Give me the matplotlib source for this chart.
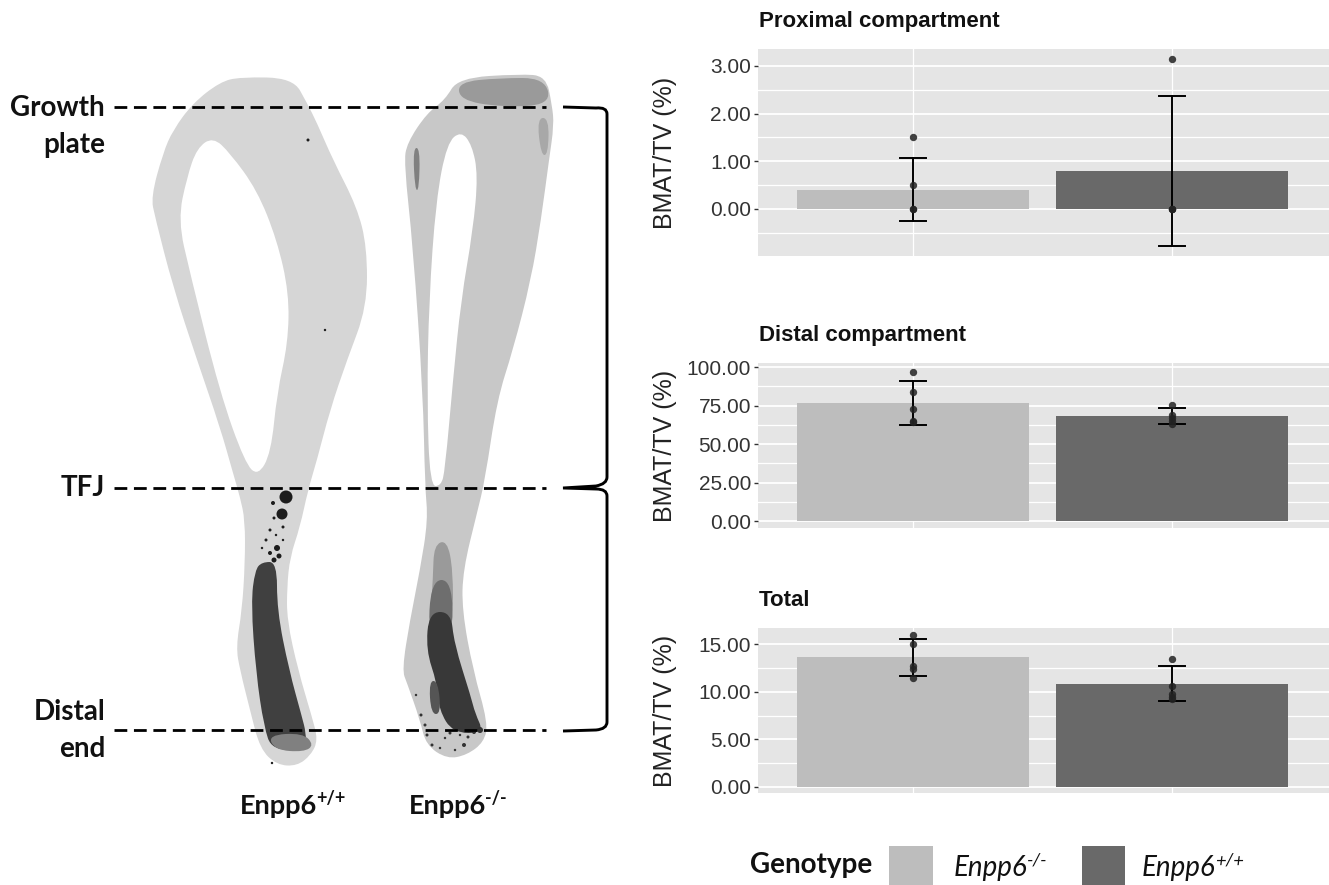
import matplotlib
matplotlib.use('Agg')
import matplotlib.pyplot as plt
from matplotlib.patches import PathPatch, Rectangle, Circle
from matplotlib.path import Path

# chart data
genotypes = [1, 2]
titles = ['Proximal compartment', 'Distal compartment', 'Total']

prox_means = [0.40, 0.80]
prox_low = [-0.25, -0.78]
prox_high = [1.07, 2.36]
prox_pts = [[0, 0, 0.5, 1.5], [0, 0, 0, 3.15]]
prox_ticks = [0, 1, 2, 3]
prox_minor = [-0.5, 0.5, 1.5, 2.5]

dist_means = [76.5, 68.5]
dist_low = [62.5, 63]
dist_high = [91, 73.5]
dist_pts = [[97, 84, 72.5, 65, 64], [75.5, 69, 67, 65, 63]]
dist_ticks = [0, 25, 50, 75, 100]
dist_minor = [12.5, 37.5, 62.5, 87.5]

tot_means = [13.6, 10.85]
tot_low = [11.6, 9.05]
tot_high = [15.5, 12.65]
tot_pts = [[15.9, 15, 12.7, 12.4, 11.4], [13.4, 10.6, 9.8, 9.4, 9.2]]
tot_ticks = [0, 5, 10, 15]
tot_minor = [2.5, 7.5, 12.5]

LIGHT = '#bdbdbd'
DARK = '#696969'
W, H = 1329, 885

plt.rcParams['font.family'] = ['Liberation Sans', 'DejaVu Sans']

fig = plt.figure(figsize=(W / 100, H / 100), dpi=100)
bg = fig.add_axes([0, 0, 1, 1])
bg.set_xlim(0, W)
bg.set_ylim(H, 0)
bg.axis('off')


def smooth(pts):
    # closed quadratic spline through the outline midpoints
    mids = [((pts[i][0] + pts[(i + 1) % len(pts)][0]) / 2,
             (pts[i][1] + pts[(i + 1) % len(pts)][1]) / 2) for i in range(len(pts))]
    verts = [mids[-1]]
    codes = [Path.MOVETO]
    for i in range(len(pts)):
        verts += [pts[i], mids[i]]
        codes += [Path.CURVE3, Path.CURVE3]
    return Path(verts, codes)


def blob(pts, color, z=2):
    bg.add_patch(PathPatch(smooth(pts), fc=color, ec='none', zorder=z))


# left bone
left_outer = [(193, 103), (220, 82), (240, 77), (293, 78), (307, 103), (317, 123), (333, 160),
              (357, 207), (367, 247), (367, 307), (347, 360), (330, 410), (317, 460), (308, 490),
              (300, 527), (290, 557), (287, 587), (287, 620), (298, 670), (312, 717), (318, 740),
              (311, 755), (297, 766), (277, 765), (260, 749), (250, 710), (240, 670), (236, 647),
              (242, 610), (245, 563), (245, 520), (240, 497), (233, 473), (220, 427), (197, 360),
              (173, 287), (155, 217), (151, 197), (163, 153), (173, 130)]
left_hole = [(213, 137), (230, 153), (257, 190), (277, 240), (289, 293), (288, 343), (277, 393),
             (271, 453), (258, 476), (245, 463), (220, 393), (190, 273), (178, 220), (187, 177),
             (197, 148)]
left_marrow = [(262, 562), (277, 562), (277, 610), (289, 670), (302, 717), (306, 733), (306, 750),
               (272, 750), (264, 727), (256, 673), (251, 603), (255, 570)]
left_foot = [(268, 735), (303, 733), (314, 745), (304, 752), (275, 750)]
blob(left_outer, '#d6d6d6')
blob(left_hole, 'white', 3)
blob(left_marrow, '#404040', 4)
blob(left_foot, '#808080', 5)
left_specks = [(286, 497, 6.5), (282, 514, 5.5), (273, 503, 2), (277, 548, 3), (283, 527, 1.5),
               (270, 530, 1.5), (274, 518, 1.5), (279, 556, 2.5), (266, 540, 1.5), (325, 330, 1.2),
               (270, 553, 2), (274, 560, 2.5), (262, 548, 1.2), (276, 535, 1.2), (308, 140, 1.5),
               (272, 763, 1.2), (283, 540, 1.2)]
for x, y, r in left_specks:
    bg.add_patch(Circle((x, y), r, fc='#1c1c1c', ec='none', zorder=5))

# right bone
right_outer = [(458, 78), (520, 74), (546, 76), (552, 105), (554, 125), (549, 160), (541, 220),
               (531, 280), (513, 350), (497, 400), (485, 480), (477, 513), (463, 570), (462, 610),
               (473, 670), (488, 723), (484, 742), (467, 755), (447, 759), (426, 745), (420, 720),
               (407, 683), (402, 670), (410, 620), (420, 570), (428, 520), (425, 487), (423, 393),
               (413, 247), (404, 163), (407, 143), (427, 113), (445, 100)]
right_hole = [(461, 131), (472, 145), (478, 175), (473, 230), (461, 300), (453, 380), (445, 470),
              (441, 486), (430, 486), (427, 400), (429, 300), (436, 200), (447, 143)]
right_plate = [(458, 82), (500, 78), (545, 78), (551, 105), (500, 107), (460, 100)]
right_plume = [(434, 545), (447, 540), (453, 570), (453, 625), (430, 625), (433, 577)]
right_mid = [(431, 580), (452, 580), (453, 640), (428, 640)]
right_marrow = [(429, 612), (451, 612), (454, 643), (471, 697), (475, 713), (484, 733), (453, 733),
                (439, 710), (437, 683), (426, 650)]
right_strip = [(429, 681), (438, 681), (441, 714), (431, 714)]
blob(right_outer, '#c8c8c8')
blob(right_hole, 'white', 3)
blob(right_plate, '#9a9a9a', 4)
blob(right_plume, '#9a9a9a', 4)
blob(right_mid, '#6e6e6e', 4)
blob(right_marrow, '#383838', 5)
blob(right_strip, '#555555', 5)
blob([(413, 148), (420, 148), (419, 190), (415, 190)], '#808080', 4)
blob([(537, 118), (549, 118), (548, 155), (541, 155)], '#a8a8a8', 4)
right_specks = [(427, 735, 1.5), (432, 745, 1.5), (464, 745, 2), (468, 737, 1.5), (460, 735, 1.2),
                (450, 733, 1.5), (480, 730, 3), (440, 748, 1.2), (474, 732, 2), (416, 695, 1.2),
                (421, 715, 1.5), (425, 725, 1.5), (455, 750, 1.2), (445, 738, 1.2)]
for x, y, r in right_specks:
    bg.add_patch(Circle((x, y), r, fc='#333333', ec='none', zorder=5))

# dashed level lines
for y in [107, 488, 730]:
    bg.plot([114, 546], [y, y], color='black', lw=2, dashes=(4.6, 2.4), zorder=6)

# curly bracket
brace = Path([(563, 107), (596, 108), (607, 107), (607, 114), (607, 477), (607, 484),
              (596, 486), (563, 488), (596, 489), (607, 489), (607, 496), (607, 722),
              (607, 729), (596, 730), (563, 731)],
             [Path.MOVETO, Path.LINETO, Path.CURVE3, Path.CURVE3, Path.LINETO,
              Path.CURVE3, Path.CURVE3, Path.LINETO, Path.LINETO, Path.CURVE3, Path.CURVE3,
              Path.LINETO, Path.CURVE3, Path.CURVE3, Path.LINETO])
bg.add_patch(PathPatch(brace, fc='none', ec='black', lw=2.1, zorder=6))

# left labels
label_font = dict(family=['Lato', 'DejaVu Sans'], fontweight='bold', fontsize=20, color='#111111', zorder=7)
for txt, y in [('Growth', 108), ('plate', 145), ('TFJ', 488), ('Distal', 712), ('end', 749)]:
    bg.text(105, y, txt, ha='right', va='center', **label_font)


def genotype(x, y, sup, size, weight, style):
    # base text, then the superscript right behind it
    font = dict(family=['Lato', 'DejaVu Sans'], fontweight=weight, fontstyle=style, color='#111111')
    t = bg.text(x, y, 'Enpp6', ha='left', va='center', fontsize=size, **font)
    box = t.get_window_extent(fig.canvas.get_renderer())
    bg.text(box.x1 - 1, y - size * 0.4, sup, ha='left', va='center', fontsize=size * 0.66, **font)


genotype(240, 806, '+/+', 19.5, 'bold', 'normal')
genotype(409, 806, '-/-', 19.5, 'bold', 'normal')

# legend
bg.text(750, 865, 'Genotype', ha='left', va='center', family=['Lato', 'DejaVu Sans'],
        fontweight='bold', fontsize=20, color='#111111')
bg.add_patch(Rectangle((889, 846), 44, 39, fc=LIGHT, ec='none'))
bg.add_patch(Rectangle((1082, 846), 43, 39, fc=DARK, ec='none'))
genotype(954, 868, '-/-', 20, 'normal', 'italic')
genotype(1142, 868, '+/+', 20, 'normal', 'italic')


def panel(top, bottom, ylim, title, means, low, high, pts, ticks, minor):
    left, right = 758, 1329
    ax = fig.add_axes([left / W, 1 - bottom / H, (right - left) / W, (bottom - top) / H])
    ax.set_facecolor('#e5e5e5')
    ax.set_axisbelow(True)
    for s in ax.spines.values():
        s.set_visible(False)
    ax.set_xlim(0.402, 2.607)
    ax.set_ylim(*ylim)
    ax.set_xticks(genotypes)
    ax.set_yticks(ticks)
    ax.set_yticks(minor, minor=True)
    ax.set_yticklabels(['%.2f' % t for t in ticks])
    ax.grid(True, which='major', axis='y', color='white', lw=1.3)
    ax.grid(True, which='major', axis='x', color='white', lw=0.9)
    ax.grid(True, which='minor', axis='y', color='white', lw=0.9)
    ax.tick_params(axis='x', length=0, labelbottom=False)
    ax.tick_params(axis='y', which='major', length=3, width=1, color='#333333',
                   labelsize=15, labelcolor='#333333', pad=2)
    ax.tick_params(axis='y', which='minor', length=0)

    ax.bar(genotypes, means, width=0.896, color=[LIGHT, DARK], zorder=2)
    for x, lo, hi, vals in zip(genotypes, low, high, pts):
        ax.plot([x, x], [lo, hi], color='black', lw=1.4, zorder=3)
        for v in (lo, hi):
            ax.plot([x - 0.05, x + 0.05], [v, v], color='black', lw=1.4, zorder=3)
        ax.scatter([x] * len(vals), vals, s=28, color='#222222', alpha=0.85, lw=0, zorder=4)

    ax.set_ylabel('BMAT/TV (%)', fontsize=18, color='#222222')
    ax.yaxis.set_label_coords((677 - left) / (right - left), 0.5)
    bg.text(759, top - 27, title, ha='left', va='center', fontsize=16, fontweight='bold',
            family=['Liberation Sans', 'DejaVu Sans'], color='#111111')
    return ax


panel(49, 256, (-0.986, 3.356), titles[0], prox_means, prox_low, prox_high, prox_pts, prox_ticks, prox_minor)
panel(363, 528, (-4.5, 102.6), titles[1], dist_means, dist_low, dist_high, dist_pts, dist_ticks, dist_minor)
panel(628, 793, (-0.63, 16.68), titles[2], tot_means, tot_low, tot_high, tot_pts, tot_ticks, tot_minor)

fig.savefig('out.png', dpi=100, facecolor='white')
